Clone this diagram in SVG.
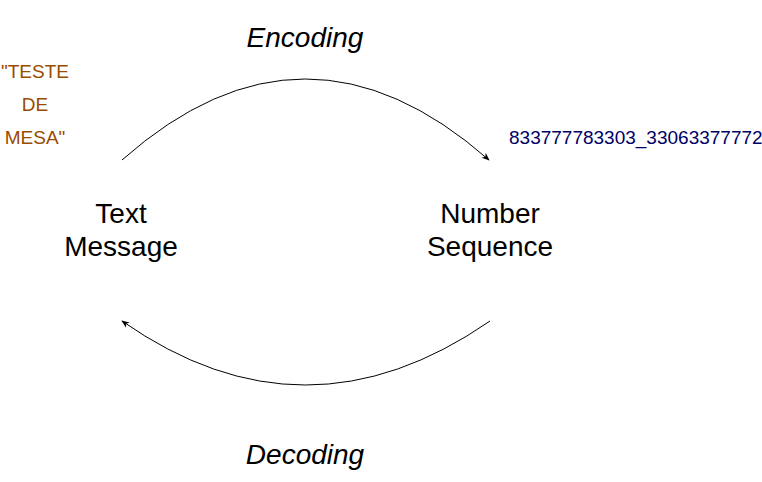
<svg xmlns="http://www.w3.org/2000/svg" width="762" height="482" viewBox="0 0 762 482">
<style>
.t{font-family:"Liberation Sans",Arial,sans-serif;fill:#000;text-anchor:middle}
.big{font-size:28px}
.it{font-style:italic}
.or{font-family:"Liberation Sans",Arial,sans-serif;font-size:19px;fill:#994C00;text-anchor:middle}
.bl{font-family:"Liberation Sans",Arial,sans-serif;font-size:19px;fill:#000066}
.c{fill:none;stroke:#000;stroke-width:1}
</style>
<defs>
<marker id="a" viewBox="0 0 10 10" refX="9" refY="5" markerWidth="8" markerHeight="8" orient="auto" markerUnits="userSpaceOnUse">
<path d="M0,1 L10,5 L0,9 L3,5 Z" fill="#000"/>
</marker>
</defs>
<rect width="762" height="482" fill="#fff"/>
<g id="connectors">
<path class="c" d="M122,160 Q305,-2 489,160" marker-end="url(#a)"/>
<path class="c" d="M490,321 Q305,449 122,321" marker-end="url(#a)"/>
</g>
<g id="encoding-label"><text class="t big it" x="305" y="47">Encoding</text></g>
<g id="decoding-label"><text class="t big it" x="305" y="464">Decoding</text></g>
<g id="text-message"><text class="t big" x="121" y="223">Text</text><text class="t big" x="121" y="256">Message</text></g>
<g id="number-sequence"><text class="t big" x="490" y="223">Number</text><text class="t big" x="490" y="256">Sequence</text></g>
<g id="example-text"><text class="or" x="35" y="78">"TESTE</text><text class="or" x="35" y="111">DE</text><text class="or" x="35" y="144">MESA"</text></g>
<g id="example-number"><text class="bl" x="509" y="144">833777783303_33063377772</text></g>
</svg>
